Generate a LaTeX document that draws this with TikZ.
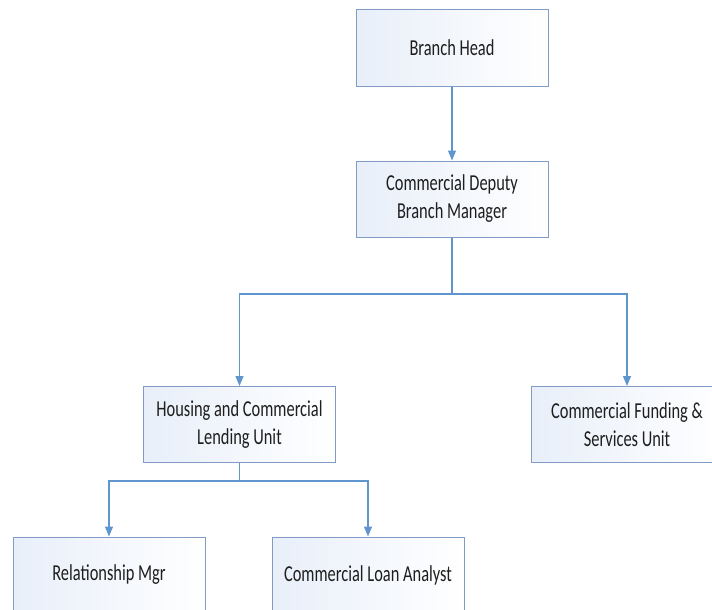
\documentclass[tikz,border=0pt]{standalone}
\usepackage{fontspec}
\setmainfont[FakeStretch=0.72]{Carlito}
\usetikzlibrary{arrows.meta}
\usetikzlibrary{positioning}

\definecolor{boxline}{RGB}{128,156,196}
\definecolor{boxfill}{RGB}{232,239,249}
\definecolor{linkblue}{RGB}{96,150,206}
\definecolor{textgray}{RGB}{30,30,30}

\tikzset{
  unit/.style={draw=boxline, line width=1pt, left color=boxfill, right color=white,
    minimum width=192pt, minimum height=76pt, inner sep=0pt, align=center,
    text=textgray, font=\fontsize{22.8}{28}\selectfont},
  link/.style={draw=linkblue, line width=1.2pt},
  tolink/.style={link, -{Triangle[width=8pt,length=10pt]}}
}

\begin{document}
\begin{tikzpicture}[x=1pt, y=-1pt]
 \useasboundingbox (0,0) rectangle (712,610);
 \clip (0,0) rectangle (712,610);

 %level 1
 \node[unit] (head)   at (452,48)  {Branch Head};
 \node[unit] (deputy) at (452,199) {Commercial Deputy\\Branch Manager};

 %level 2
 \node[unit] (housing) at (239.5,424.5) {Housing and Commercial\\Lending Unit};
 \node[unit] (funding) at (627,424.5)   {Commercial Funding \&\\Services Unit};

 %level 3
 \foreach \name/\x/\label in {relmgr/109/Relationship Mgr, analyst/368/Commercial Loan Analyst} {
     \node[unit] (\name) at (\x,575) {\label};
 }

 % lines
 \coordinate (split1) at (452,294);
 \coordinate (split2) at (239.5,481);

 \draw[tolink] (head) -- (deputy);
 \draw[link] (deputy) -- (split1);
 \draw[tolink] (split1) -| (housing);
 \draw[tolink] (split1) -| (funding);
 \draw[link] (housing) -- (split2);
 \draw[tolink] (split2) -| (relmgr);
 \draw[tolink] (split2) -| (analyst);

\end{tikzpicture}
\end{document}
